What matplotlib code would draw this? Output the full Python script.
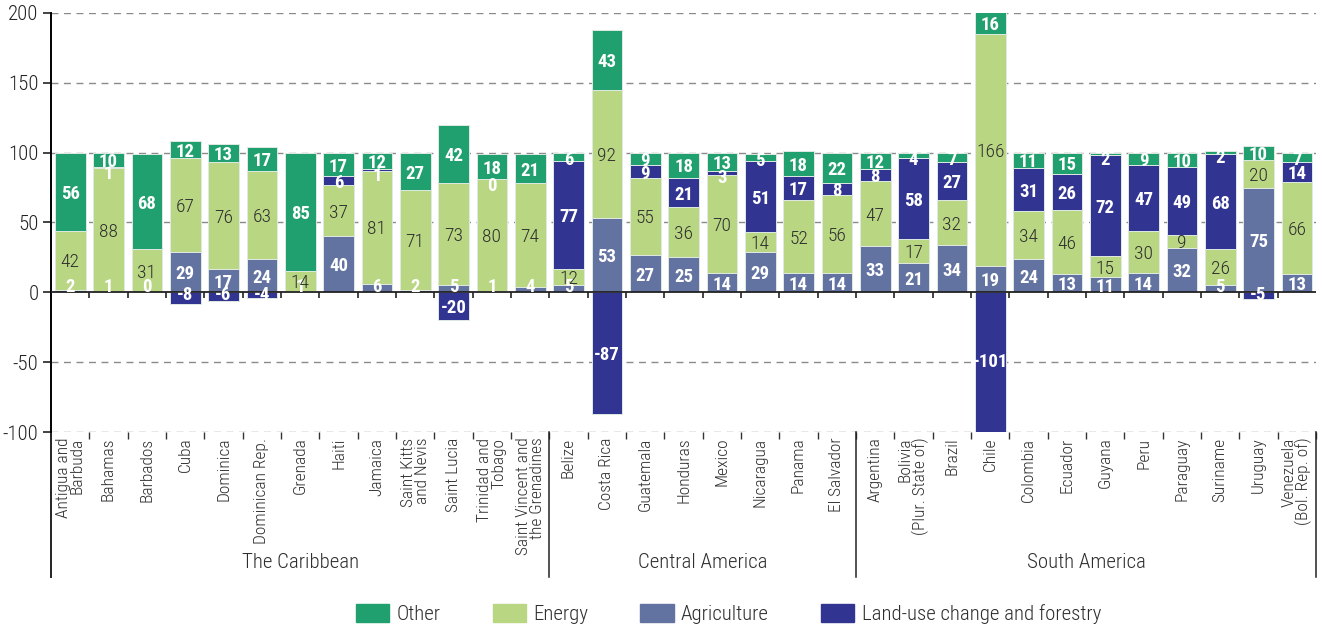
import numpy as np
import matplotlib
matplotlib.use('Agg')
import matplotlib.pyplot as plt
import matplotlib.patches as mpatches

plt.rcParams['font.family'] = ['Roboto Condensed', 'DejaVu Sans']
plt.rcParams['axes.unicode_minus'] = False

countries = [
    'Antigua and\nBarbuda', 'Bahamas', 'Barbados', 'Cuba', 'Dominica', 'Dominican Rep.',
    'Grenada', 'Haiti', 'Jamaica', 'Saint Kitts\nand Nevis', 'Saint Lucia',
    'Trinidad and\nTobago', 'Saint Vincent and\nthe Grenadines',
    'Belize', 'Costa Rica', 'Guatemala', 'Honduras', 'Mexico', 'Nicaragua', 'Panama',
    'El Salvador',
    'Argentina', 'Bolivia\n(Plur. State of)', 'Brazil', 'Chile', 'Colombia', 'Ecuador',
    'Guyana', 'Peru', 'Paraguay', 'Suriname', 'Uruguay', 'Venezuela\n(Bol. Rep. of)',
]
groups = ['The Caribbean', 'Central America', 'South America']
group_sizes = [13, 8, 12]

nan = np.nan
agriculture = [2, 1, 0, 29, 17, 24, 1, 40, 6, 2, 5, 1, 4,
               5, 53, 27, 25, 14, 29, 14, 14,
               33, 21, 34, 19, 24, 13, 11, 14, 32, 5, 75, 13]
energy = [42, 88, 31, 67, 76, 63, 14, 37, 81, 71, 73, 80, 74,
          12, 92, 55, 36, 70, 14, 52, 56,
          47, 17, 32, 166, 34, 46, 15, 30, 9, 26, 20, 66]
landuse = [nan, 1, nan, -8, -6, -4, nan, 6, 1, nan, -20, 0, nan,
           77, -87, 9, 21, 3, 51, 17, 8,
           8, 58, 27, -101, 31, 26, 72, 47, 49, 68, -5, 14]
other = [56, 10, 68, 12, 13, 17, 85, 17, 12, 27, 42, 18, 21,
         6, 43, 9, 18, 13, 5, 18, 22,
         12, 4, 7, 16, 11, 15, 2, 9, 10, 2, 10, 7]

C = dict(other='#20A06F', energy='#B9D683', agri='#6272A1', luc='#323492')
TXT = '#2e2e2e'

agri = np.array(agriculture, float)
ener = np.array(energy, float)
luc = np.array(landuse, float)
oth = np.array(other, float)
luc0 = np.nan_to_num(luc)
luc_pos = np.clip(luc0, 0, None)
luc_neg = np.clip(luc0, None, 0)

x = np.arange(len(countries))
w = 0.8

fig = plt.figure(figsize=(13.22, 6.29), dpi=100)
ax = fig.add_axes([51/1322, 1-432/629, (1316-51)/1322, 419/629])
ax.set_xlim(-0.5, len(countries)-0.5)
ax.set_ylim(-100, 200)

for yv in [-100, -50, 50, 100, 150, 200]:
    ax.axhline(yv, color='#8a8a8a', lw=1.0, ls=(0, (5, 4)), zorder=0)

ek = dict(edgecolor='#dfe9e3', linewidth=0.7, zorder=2)
ax.bar(x, agri, w, color=C['agri'], **ek)
ax.bar(x, ener, w, bottom=agri, color=C['energy'], **ek)
ax.bar(x, luc_pos, w, bottom=agri+ener, color=C['luc'], **ek)
ax.bar(x, luc_neg, w, color=C['luc'], **ek)
ax.bar(x, oth, w, bottom=agri+ener+luc_pos, color=C['other'], **ek)

# value labels
wk = dict(ha='center', va='center', color='white', fontweight='bold', fontsize=13.5, zorder=5)
dk = dict(ha='center', va='center', color=TXT, fontsize=14, fontweight='light', zorder=5)
for i in x:
    a, e, l, o = agri[i], ener[i], luc[i], oth[i]
    ax.text(i, max(a/2 - 1.5, 3.5), f'{a:.0f}', **wk)
    ax.text(i, a + e/2 - 1.5, f'{e:.0f}', **dk)
    base = a + e
    if not np.isnan(l):
        if l >= 0:
            yl = base + l - 5 if l < 7 else base + l/2 - 1.5
            base += l
        else:
            yl = -2 if l > -10 else max(l/2 - 1.5, -50)
        ax.text(i, yl, f'{l:.0f}', **wk)
    yo = base + o - 5 if o < 7 else base + o/2 - 1.5
    ax.text(i, yo, f'{o:.0f}', **wk)

# zero line with boundary ticks
ax.axhline(0, color='#222222', lw=1.3, zorder=4)
bounds = np.arange(len(countries)+1) - 0.5
ax.vlines(bounds[1:-1], -4, 0, color='#222222', lw=1.2, zorder=4)

for s in ['top', 'right', 'bottom']:
    ax.spines[s].set_visible(False)
ax.spines['left'].set_linewidth(1.4)
ax.spines['left'].set_bounds(-100, 200)

ax.set_yticks([-100, -50, 0, 50, 100, 150, 200])
ax.tick_params(axis='y', length=6, width=1.2, labelsize=15, pad=3, colors='#222222')
for t in ax.get_yticklabels():
    t.set_fontweight('light')
ax.set_xticks(x)
ax.set_xticklabels(countries, rotation=90, va='top', ha='center',
                   multialignment='right', fontsize=12.5, color=TXT,
                   linespacing=0.92, fontweight='light')
ax.tick_params(axis='x', length=0, pad=4)
ax.set_xticks(bounds[1:], minor=True)
ax.tick_params(axis='x', which='minor', length=5, width=1.0, color='#333333')

# group separators and names
tr = ax.get_xaxis_transform()
ylow = -(577-432)/419
ax.plot([-0.5, -0.5], [0, ylow], color='#222222', lw=1.4, transform=tr, clip_on=False)
start = 0
for g, n in zip(groups, group_sizes):
    end = start + n
    ax.plot([end-0.5, end-0.5], [0, ylow], color='#222222', lw=1.1,
            transform=tr, clip_on=False)
    ax.text((start+end-1)/2, -(562-432)/419, g, transform=tr, ha='center',
            va='center', fontsize=15, color=TXT, fontweight='light')
    start = end

handles = [
    mpatches.Patch(color=C['other'], label='Other'),
    mpatches.Patch(color=C['energy'], label='Energy'),
    mpatches.Patch(color=C['agri'], label='Agriculture'),
    mpatches.Patch(color=C['luc'], label='Land-use change and forestry'),
]
leg = fig.legend(handles=handles, loc='center', bbox_to_anchor=(0.551, 0.024), ncol=4,
                 frameon=False, fontsize=15, handlelength=1.6, handleheight=1.0,
                 handletextpad=0.35, columnspacing=2.5, labelcolor=TXT)
for t in leg.get_texts():
    t.set_fontweight('light')

fig.savefig('out.png', dpi=100, facecolor='white')
